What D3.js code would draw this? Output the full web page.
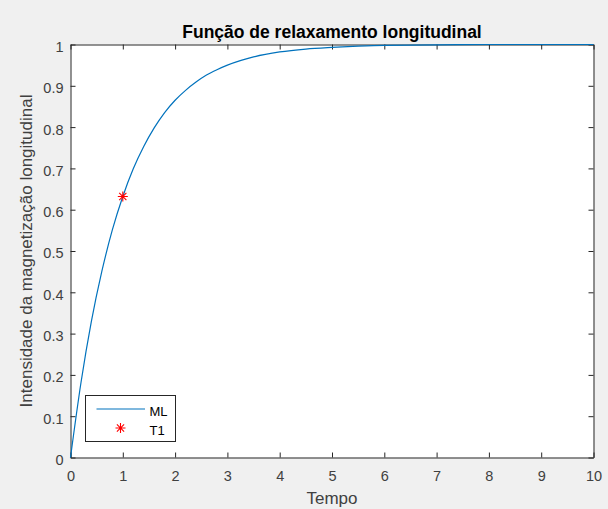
<!DOCTYPE html>
<html>
<head>
<meta charset="utf-8">
<script src="https://cdn.jsdelivr.net/npm/d3@7"></script>
<style>
  body { margin: 0; background: #f0f0f0; }
  text { font-family: "Liberation Sans", Arial, Helvetica, sans-serif; }
</style>
</head>
<body>
<div id="app"></div>
<script>
// values
let tempo = [0, 0.2, 0.4, 0.6, 0.8, 1.0, 1.2, 1.4, 1.6, 1.8, 2.0, 2.2, 2.4, 2.6, 2.8, 3.0, 3.5, 4.0, 4.5, 5.0, 5.5, 6, 7, 8, 9, 10];
let ml = [0, 0.181, 0.33, 0.451, 0.551, 0.632, 0.699, 0.753, 0.798, 0.835, 0.865, 0.889, 0.909, 0.926, 0.939, 0.95, 0.97, 0.982, 0.989, 0.993, 0.996, 0.998, 0.999, 1.0, 1.0, 1.0];
let t1X = [1];
let t1Y = [0.632];
let xTicks = [0, 1, 2, 3, 4, 5, 6, 7, 8, 9, 10];
let yTicks = [0, 0.1, 0.2, 0.3, 0.4, 0.5, 0.6, 0.7, 0.8, 0.9, 1];

var width = 608,
  height = 509;
let margin = { top: 44.5, bottom: 51.5, left: 70.5, right: 14.5 };

let svg = d3
  .select("#app")
  .append("svg")
  .attr("width", width)
  .attr("height", height)
  .attr("style", "background-color:#f0f0f0");

let x = d3
  .scaleLinear()
  .range([margin.left, width - margin.right])
  .domain([0, 10]);

let y = d3
  .scaleLinear()
  .range([height - margin.bottom, margin.top])
  .domain([0, 1]);

// plot area
svg
  .append("rect")
  .attr("x", x(0))
  .attr("y", y(1))
  .attr("width", x(10) - x(0))
  .attr("height", y(0) - y(1))
  .attr("fill", "#ffffff");

let tickColor = "#262626";
let labelColor = "#404040";

// axes with inward ticks
let xAxis = svg
  .append("g")
  .attr("transform", "translate(0," + y(0) + ")")
  .call(d3.axisBottom(x).tickValues(xTicks).tickSizeInner(-5).tickSizeOuter(0).tickPadding(13).tickFormat(d3.format("d")));
let xTop = svg
  .append("g")
  .attr("transform", "translate(0," + y(1) + ")")
  .call(d3.axisTop(x).tickValues(xTicks).tickSizeInner(-5).tickSizeOuter(0).tickFormat(""));
let yAxis = svg
  .append("g")
  .attr("transform", "translate(" + x(0) + ",0)")
  .call(d3.axisLeft(y).tickValues(yTicks).tickSizeInner(-5).tickSizeOuter(0).tickPadding(7).tickFormat((d) => d3.format("")(+d.toFixed(1))));
let yRight = svg
  .append("g")
  .attr("transform", "translate(" + x(10) + ",0)")
  .call(d3.axisRight(y).tickValues(yTicks).tickSizeInner(-5).tickSizeOuter(0).tickFormat(""));

[xAxis, xTop, yAxis, yRight].forEach((g) => {
  g.select(".domain").attr("stroke", tickColor);
  g.selectAll(".tick line").attr("stroke", tickColor);
  g.selectAll(".tick text")
    .attr("fill", labelColor)
    .style("font-size", "14.5px")
    .style("font-family", "'Liberation Sans', Arial, sans-serif");
});
yAxis.selectAll(".tick text").attr("dy", "0.48em");

// curve
svg
  .append("path")
  .datum(tempo)
  .attr(
    "d",
    d3
      .line()
      .curve(d3.curveMonotoneX)
      .x((d, i) => x(tempo[i]))
      .y((d, i) => y(ml[i]))
  )
  .attr("stroke", "#0072bd")
  .attr("stroke-width", 1.2)
  .attr("fill", "none");

// matlab-like '*' marker
function asterisk(g, cx, cy, r) {
  let k = r * 0.72;
  let p = d3.path();
  p.moveTo(-r, 0); p.lineTo(r, 0);
  p.moveTo(0, -r); p.lineTo(0, r);
  p.moveTo(-k, -k); p.lineTo(k, k);
  p.moveTo(-k, k); p.lineTo(k, -k);
  g.append("path")
    .attr("transform", "translate(" + cx + "," + cy + ")")
    .attr("d", p.toString())
    .attr("stroke", "#ff0000")
    .attr("stroke-width", 1.1)
    .attr("fill", "none");
}

// T1 marker
t1X.forEach((d, i) => asterisk(svg, x(d), y(t1Y[i]), 5));

// title
svg
  .append("text")
  .attr("x", (x(0) + x(10)) / 2)
  .attr("y", 38)
  .attr("text-anchor", "middle")
  .style("font-size", "17.5px")
  .style("font-weight", "bold")
  .attr("fill", "#000000")
  .text("Função de relaxamento longitudinal");

// axis labels
svg
  .append("text")
  .attr("x", (x(0) + x(10)) / 2)
  .attr("y", 504)
  .attr("text-anchor", "middle")
  .style("font-size", "17px")
  .attr("fill", labelColor)
  .text("Tempo");

svg
  .append("text")
  .attr("transform", "translate(32," + (y(0) + y(1)) / 2 + ") rotate(-90)")
  .attr("text-anchor", "middle")
  .style("font-size", "17px")
  .attr("fill", labelColor)
  .text("Intensidade da magnetização longitudinal");

// legend
let legend = svg.append("g").attr("transform", "translate(85.5,395.5)");
legend
  .append("rect")
  .attr("width", 90)
  .attr("height", 46)
  .attr("fill", "#ffffff")
  .attr("stroke", tickColor)
  .attr("stroke-width", 1);
legend
  .append("line")
  .attr("x1", 11)
  .attr("x2", 59.5)
  .attr("y1", 13.5)
  .attr("y2", 13.5)
  .attr("stroke", "#0072bd")
  .attr("stroke-width", 1.2);
legend
  .append("text")
  .attr("x", 64)
  .attr("y", 20.5)
  .style("font-size", "13px")
  .attr("fill", "#000000")
  .text("ML");
asterisk(legend, 35, 32.5, 5);
legend
  .append("text")
  .attr("x", 64)
  .attr("y", 39.5)
  .style("font-size", "13px")
  .attr("fill", "#000000")
  .text("T1");
</script>
</body>
</html>
